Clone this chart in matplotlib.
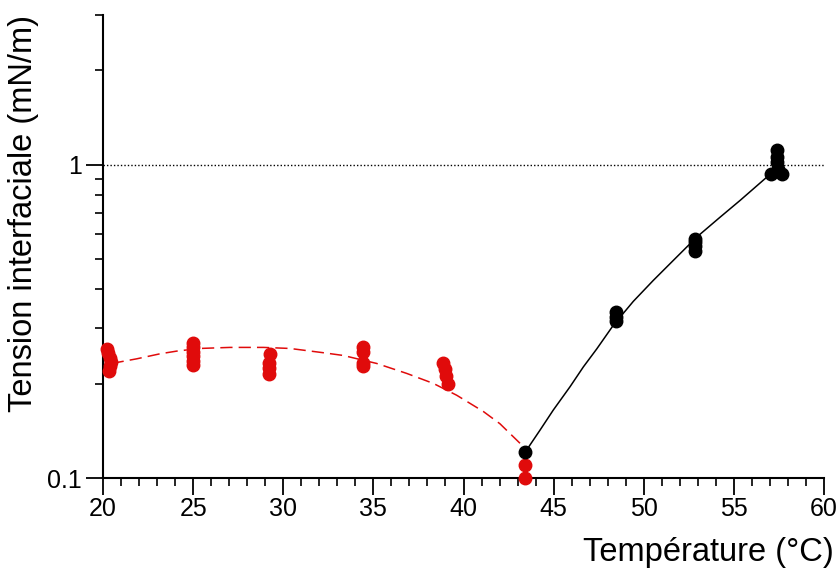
import matplotlib
matplotlib.use('Agg')
import matplotlib.pyplot as plt
from matplotlib.ticker import LogLocator, FixedLocator, MultipleLocator, NullFormatter
import numpy as np

plt.rcParams['font.family'] = ['Liberation Sans', 'DejaVu Sans']

# measured points, below the critical temperature (red)
red_t = [20.2, 20.25, 20.4, 20.45, 20.4, 20.35,
         25.0, 25.0, 25.0, 25.0, 25.0, 25.0,
         29.25, 29.2, 29.2, 29.2,
         34.42, 34.42, 34.42, 34.42,
         38.85, 38.95, 39.05, 39.15,
         43.4, 43.4]
red_g = [0.258, 0.25, 0.242, 0.235, 0.227, 0.22,
         0.27, 0.262, 0.253, 0.245, 0.237, 0.229,
         0.248, 0.233, 0.224, 0.215,
         0.262, 0.253, 0.232, 0.227,
         0.233, 0.222, 0.212, 0.2,
         0.11, 0.1]

# measured points, above the critical temperature (black)
blk_t = [43.4,
         48.45, 48.45, 48.45,
         52.82, 52.82, 52.85, 52.85,
         57.05, 57.65, 57.45, 57.4, 57.4, 57.4]
blk_g = [0.121,
         0.338, 0.326, 0.316,
         0.58, 0.565, 0.55, 0.53,
         0.93, 0.935, 0.97, 1.02, 1.06, 1.11]

# guide curves
red_fit_t = [20.48, 21.87, 23.16, 24.09, 25.38, 27.05, 28.9, 30.37, 32.22,
             33.33, 35.18, 36.85, 38.33, 39.62, 41.1, 42.02, 43.32]
red_fit_g = [0.232, 0.240, 0.249, 0.254, 0.259, 0.261, 0.261, 0.259, 0.251,
             0.246, 0.232, 0.2156, 0.2003, 0.1837, 0.163, 0.149, 0.126]
blk_fit_t = [43.5, 44.24, 44.98, 45.91, 46.65, 47.39, 48.31, 49.42, 50.53,
             51.64, 52.94, 54.23, 55.34, 56.82]
blk_fit_g = [0.1228, 0.142, 0.1647, 0.1955, 0.2262, 0.258, 0.307, 0.366,
             0.427, 0.4945, 0.587, 0.679, 0.768, 0.911]

RED = '#e00b0b'

fig = plt.figure(figsize=(8.39, 5.70), dpi=100)
ax = fig.add_axes([103/839, 1 - 478/570, (824 - 103)/839, (478 - 15)/570])

ax.axhline(1.0, color='black', lw=1.0, ls=(0, (1, 1.5)), zorder=1)

ax.plot(red_fit_t, red_fit_g, color=RED, lw=1.1, ls=(0, (8, 4)), zorder=2)
ax.plot(blk_fit_t, blk_fit_g, color='black', lw=1.1, zorder=2)

ax.plot(red_t, red_g, 'o', color=RED, ms=9, mec=RED, clip_on=False, zorder=4)
ax.plot(blk_t, blk_g, 'o', color='black', ms=9, clip_on=False, zorder=4)

ax.set_yscale('log')
ax.set_xlim(20, 60)
ax.set_ylim(0.1, 3)
ax.xaxis.set_major_locator(MultipleLocator(5))
ax.xaxis.set_minor_locator(MultipleLocator(1))
ax.yaxis.set_major_locator(FixedLocator([0.1, 1]))
ax.yaxis.set_minor_locator(LogLocator(base=10, subs=np.arange(2, 10), numticks=10))
ax.yaxis.set_minor_formatter(NullFormatter())
ax.set_yticklabels(['0.1', '1'])

for side in ['top', 'right']:
    ax.spines[side].set_visible(False)
for side in ['left', 'bottom']:
    ax.spines[side].set_linewidth(1.5)

ax.tick_params(which='major', length=12, width=1.3, labelsize=18)
ax.tick_params(which='minor', length=6, width=1.2)
ax.tick_params(axis='x', which='major', pad=2)
ax.tick_params(axis='y', which='major', pad=3)

ax.set_ylabel('Tension interfaciale (mN/m)', fontsize=23.5, va='center')
ax.set_xlabel('Température (°C)', fontsize=23.5, ha='right', va='center')
ax.xaxis.set_label_coords((834 - 103) / 721, (478 - 552) / 463)
ax.yaxis.set_label_coords((24 - 103) / 721, (478 - 214) / 463)

fig.savefig('out.png', dpi=100)
